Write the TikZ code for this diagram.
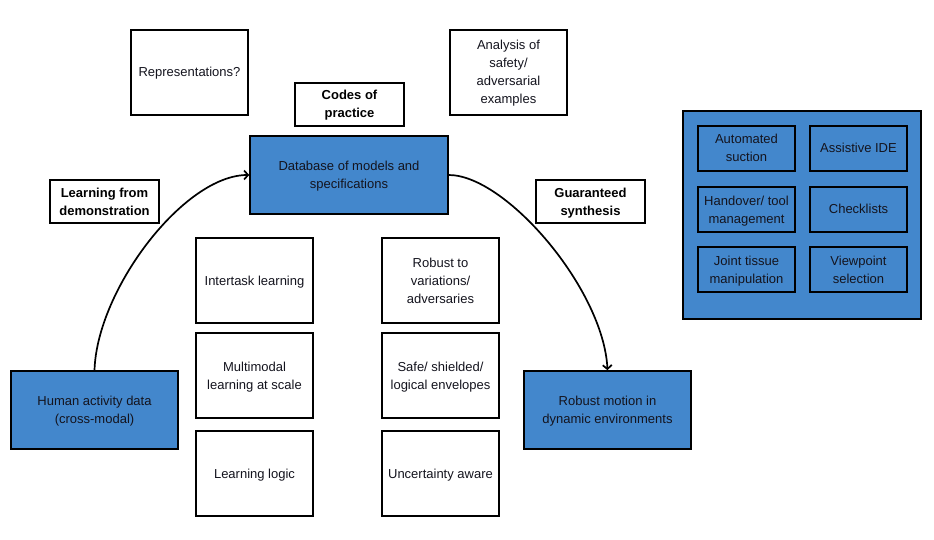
\documentclass[tikz,border=0pt]{standalone}
\usepackage{fontspec}
\setmainfont{Liberation Sans}
\usetikzlibrary{arrows.meta}
\definecolor{boxblue}{RGB}{67,135,204}
\definecolor{txtdark}{RGB}{20,20,30}
\newcommand\mystrut{\rule[-4.5pt]{0pt}{18pt}}
\tikzset{
  box/.style={draw=black, line width=1.6pt, fill=white, inner sep=0pt, align=center,
    font=\fontsize{13}{18}\selectfont, text=txtdark},
  bluebox/.style={box, fill=boxblue},
  boldbox/.style={box, font=\fontsize{13}{18}\selectfont\bfseries, text=black},
  bigsq/.style={box, minimum width=117pt, minimum height=85pt},
  small/.style={bluebox, minimum width=97pt, minimum height=45pt},
  link/.style={line width=1.7pt, -{Straight Barb[length=4pt,width=9pt,line width=1.7pt]}}
}
\begin{document}
\begin{tikzpicture}[x=1pt,y=-1pt]
\useasboundingbox (0,0) rectangle (934,540);
\node[bigsq] (rep) at (189.5,72.5) {\mystrut Representations?\mystrut};
\node[bigsq] (ana) at (508.5,72.5) {\mystrut Analysis of\\safety/\\adversarial\\examples\mystrut};
\node[boldbox, minimum width=109pt, minimum height=43pt] (codes) at (349.5,104.5) {\mystrut Codes of\\practice\mystrut};
\node[bluebox, minimum width=198pt, minimum height=78pt] (db) at (349,175) {\mystrut Database of models and\\specifications\mystrut};
\node[boldbox, minimum width=109pt, minimum height=43pt] (lfd) at (104.5,201.5) {\mystrut Learning from\\demonstration\mystrut};
\node[boldbox, minimum width=109pt, minimum height=43pt] (gs) at (590.5,201.5) {\mystrut Guaranteed\\synthesis\mystrut};
\node[bigsq] (inter) at (254.5,280.5) {\mystrut Intertask learning\mystrut};
\node[bigsq] (multi) at (254.5,375.5) {\mystrut Multimodal\\learning at scale\mystrut};
\node[bigsq] (logic) at (254.5,473.5) {\mystrut Learning logic\mystrut};
\node[bigsq] (robust) at (440.5,280.5) {\mystrut Robust to\\variations/\\adversaries\mystrut};
\node[bigsq] (safe) at (440.5,375.5) {\mystrut Safe/ shielded/\\logical envelopes\mystrut};
\node[bigsq] (unc) at (440.5,473.5) {\mystrut Uncertainty aware\mystrut};
\node[bluebox, minimum width=167pt, minimum height=78pt] (human) at (94.5,410) {\mystrut Human activity data\\(cross-modal)\mystrut};
\node[bluebox, minimum width=167pt, minimum height=78pt] (motion) at (607.5,410) {\mystrut Robust motion in\\dynamic environments\mystrut};
\node[bluebox, minimum width=238pt, minimum height=208pt] (panel) at (802,215) {};
\node[small] (auto) at (746.5,148.5) {\mystrut Automated\\suction\mystrut};
\node[small] (ide) at (858.5,148.5) {\mystrut Assistive IDE\mystrut};
\node[small] (hand) at (746.5,209.5) {\mystrut Handover/ tool\\management\mystrut};
\node[small] (check) at (858.5,209.5) {\mystrut Checklists\mystrut};
\node[small] (joint) at (746.5,269.5) {\mystrut Joint tissue\\manipulation\mystrut};
\node[small] (view) at (858.5,269.5) {\mystrut Viewpoint\\selection\mystrut};
\draw[link] (human.north) .. controls +(2.5,-81) and +(-65,0) .. (db.west);
\draw[link] (db.east) .. controls +(57,0) and +(-4,-81) .. (motion.north);
\end{tikzpicture}
\end{document}
